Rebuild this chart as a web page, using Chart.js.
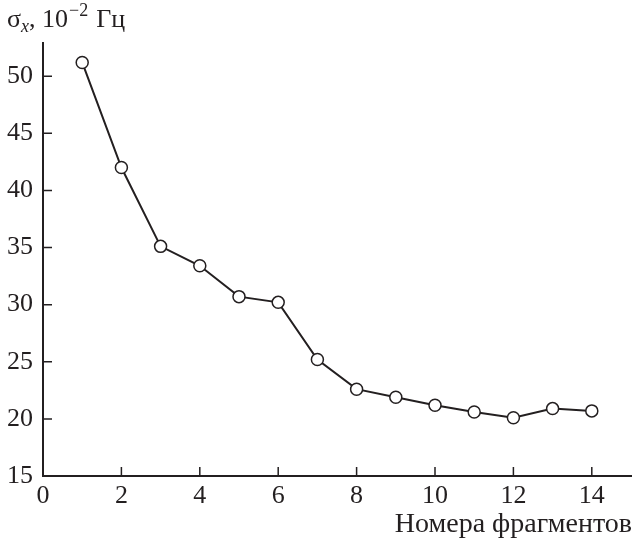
<!DOCTYPE html>
<html>
<head>
<meta charset="utf-8">
<script src="https://cdn.jsdelivr.net/npm/chart.js@4.4.1/dist/chart.umd.min.js"></script>
<style>
  html, body { margin: 0; padding: 0; background: #fff; }
  #wrap { width: 633px; height: 540px; position: relative; }
</style>
</head>
<body>
<div id="wrap"><canvas id="chart"></canvas></div>
<script>
// Fragment numbers and sigma_x values (10^-2 Hz)
const fragments = [1, 2, 3, 4, 5, 6, 7, 8, 9, 10, 11, 12, 13, 14];
const sigmaX = [51.2, 42.0, 35.1, 33.4, 30.7, 30.2, 25.2, 22.6, 21.9, 21.2, 20.6, 20.1, 20.9, 20.7];
const xTicks = [0, 2, 4, 6, 8, 10, 12, 14];
const yTicks = [15, 20, 25, 30, 35, 40, 45, 50];

const ink = '#231f20';
const serif = '"Liberation Serif", "DejaVu Serif", serif';

// Inward tick marks and axis captions
const decor = {
    id: 'decor',
    afterDraw(chart) {
        const ctx = chart.ctx;
        const xs = chart.scales.x, ys = chart.scales.y;
        const area = chart.chartArea;
        ctx.save();
        ctx.strokeStyle = ink;
        ctx.lineWidth = 1.5;
        ctx.beginPath();
        xTicks.forEach(v => {
            if (v === 0) return;
            const px = xs.getPixelForValue(v);
            ctx.moveTo(px, area.bottom);
            ctx.lineTo(px, area.bottom - 9);
        });
        yTicks.forEach(v => {
            if (v === 15) return;
            const py = ys.getPixelForValue(v);
            ctx.moveTo(area.left, py);
            ctx.lineTo(area.left + 9, py);
        });
        ctx.stroke();

        // y caption: σx, 10^-2 Гц
        ctx.fillStyle = ink;
        ctx.textBaseline = 'alphabetic';
        ctx.textAlign = 'left';
        let x = 7;
        const base = 27;
        ctx.font = '26px ' + serif;
        ctx.fillText('σ', x, base);
        x += ctx.measureText('σ').width;
        ctx.font = 'italic 18px ' + serif;
        ctx.fillText('x', x, base + 5);
        x += ctx.measureText('x').width;
        ctx.font = '26px ' + serif;
        ctx.fillText(', 10', x, base);
        x += ctx.measureText(', 10').width + 1;
        ctx.font = '18px ' + serif;
        ctx.fillText('−2', x, base - 11);
        x += ctx.measureText('−2').width + 8;
        ctx.font = '26px ' + serif;
        ctx.fillText('Гц', x, base);

        // x caption
        ctx.font = '28px ' + serif;
        ctx.textAlign = 'right';
        ctx.fillText('Номера фрагментов', 632, 532);
        ctx.restore();
    }
};

new Chart(document.getElementById('chart'), {
    type: 'scatter',
    data: {
        datasets: [{
            data: fragments.map((f, i) => ({ x: f, y: sigmaX[i] })),
            showLine: true,
            borderColor: ink,
            borderWidth: 2,
            pointRadius: 6,
            pointBorderWidth: 1.5,
            pointBackgroundColor: '#ffffff',
            pointBorderColor: ink
        }]
    },
    options: {
        responsive: true,
        maintainAspectRatio: false,
        animation: false,
        layout: { autoPadding: false, padding: { top: 43, right: 2, bottom: 24, left: 0 } },
        plugins: {
            legend: { display: false },
            tooltip: { enabled: false }
        },
        scales: {
            x: {
                type: 'linear',
                min: 0,
                max: 15,
                afterBuildTicks: s => { s.ticks = xTicks.map(v => ({ value: v })); },
                afterFit: s => { s.height = 40; },
                grid: { display: false, drawTicks: false },
                border: { display: true, color: ink, width: 2 },
                ticks: {
                    color: ink,
                    padding: 5,
                    maxRotation: 0,
                    autoSkip: false,
                    font: { family: serif, size: 26 }
                }
            },
            y: {
                min: 15,
                max: 52.9,
                afterBuildTicks: s => { s.ticks = yTicks.map(v => ({ value: v })); },
                afterFit: s => { s.width = 43; },
                grid: { display: false, drawTicks: false },
                border: { display: true, color: ink, width: 2 },
                ticks: {
                    color: ink,
                    padding: 10,
                    autoSkip: false,
                    font: { family: serif, size: 26 }
                }
            }
        }
    },
    plugins: [decor]
});
</script>
</body>
</html>
